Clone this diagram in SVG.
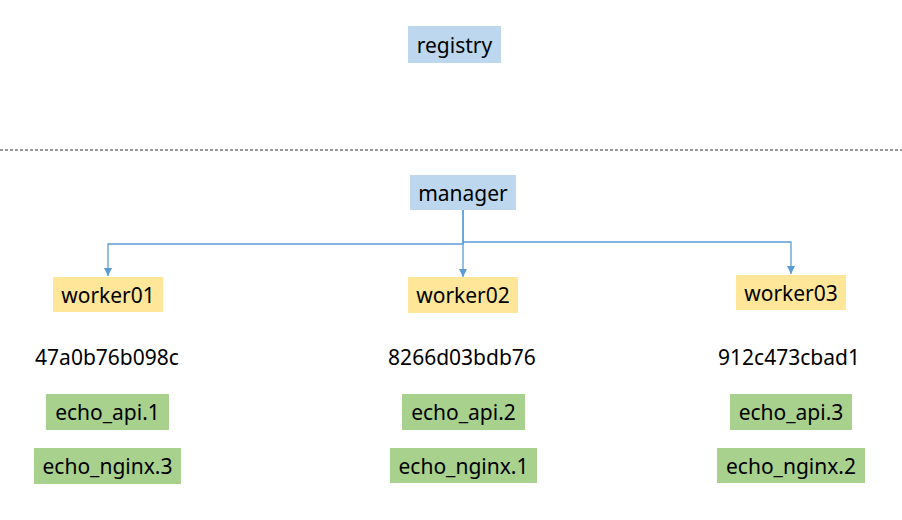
<svg xmlns="http://www.w3.org/2000/svg" width="902" height="520" viewBox="0 0 902 520">
<defs>
<style>
text{font-family:"Noto Sans","Noto Sans CJK KR",sans-serif;font-size:21px;fill:#000;text-anchor:middle;dominant-baseline:central}
.blue{fill:#BDD7EE}
.yellow{fill:#FFE699}
.green{fill:#A9D18E}
.conn{fill:none;stroke:#5B9BD5;stroke-width:1.3}
</style>
<marker id="arr" viewBox="0 0 10 10" refX="10" refY="5" markerWidth="8" markerHeight="8" markerUnits="userSpaceOnUse" orient="auto">
<path d="M0,0 L10,5 L0,10 z" fill="#5B9BD5"/>
</marker>
</defs>
<rect width="902" height="520" fill="#fff"/>
<line x1="0" y1="150" x2="902" y2="150" stroke="#333" stroke-width="1" stroke-dasharray="3 2"/>
<g id="registry"><rect class="blue" x="408" y="26" width="93" height="37"/><text x="454.5" y="45">registry</text></g>
<g id="manager"><rect class="blue" x="410" y="175" width="106" height="35"/><text x="463" y="193">manager</text></g>
<g id="worker01"><rect class="yellow" x="53" y="277" width="110" height="35"/><text x="108" y="295">worker01</text></g>
<g id="worker02"><rect class="yellow" x="408" y="277" width="110" height="36"/><text x="463" y="295">worker02</text></g>
<g id="worker03"><rect class="yellow" x="736" y="275" width="110" height="35"/><text x="791" y="293">worker03</text></g>
<g id="host01"><text x="107" y="357">47a0b76b098c</text></g>
<g id="host02"><text x="462" y="357">8266d03bdb76</text></g>
<g id="host03"><text x="789" y="357">912c473cbad1</text></g>
<g id="echo_api1"><rect class="green" x="46" y="394" width="123" height="36"/><text x="107.5" y="412">echo_api.1</text></g>
<g id="echo_nginx3"><rect class="green" x="34" y="448" width="147" height="36"/><text x="107.5" y="466">echo_nginx.3</text></g>
<g id="echo_api2"><rect class="green" x="402" y="394" width="123" height="36"/><text x="463.5" y="412">echo_api.2</text></g>
<g id="echo_nginx1"><rect class="green" x="390" y="448" width="147" height="35"/><text x="463.5" y="466">echo_nginx.1</text></g>
<g id="echo_api3"><rect class="green" x="730" y="394" width="122" height="36"/><text x="791" y="412">echo_api.3</text></g>
<g id="echo_nginx2"><rect class="green" x="717" y="448" width="148" height="35"/><text x="791" y="466">echo_nginx.2</text></g>
<g id="connectors">
<path class="conn" d="M463,210 V244 H108 V276" marker-end="url(#arr)"/>
<path class="conn" d="M463,210 V277" marker-end="url(#arr)"/>
<path class="conn" d="M463,242 H791 V274" marker-end="url(#arr)"/>
</g>
</svg>
